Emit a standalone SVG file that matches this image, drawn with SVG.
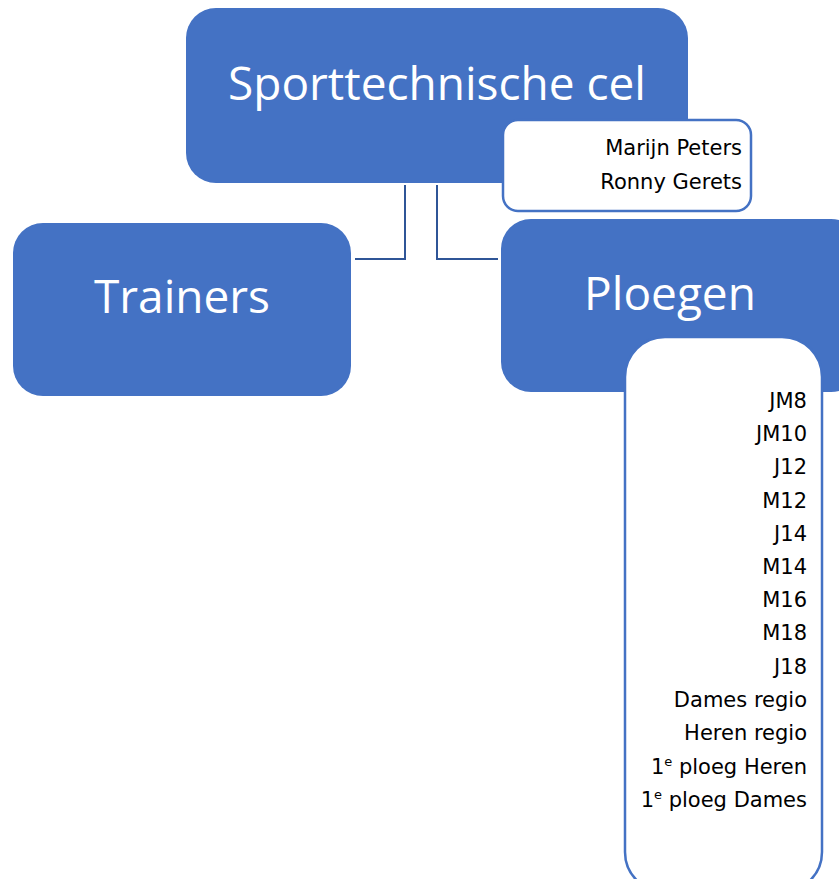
<svg xmlns="http://www.w3.org/2000/svg" width="839" height="879" viewBox="0 0 839 879">
<style>
.box{fill:#4472C4;}
.sub{fill:#FFFFFF;stroke:#4472C4;stroke-width:2.5;}
.big{font-family:"Open Sans","Noto Sans",sans-serif;font-size:46px;fill:#FFFFFF;text-anchor:middle;}
.sm{font-family:"DejaVu Sans","Liberation Sans",sans-serif;font-size:21px;fill:#000000;text-anchor:end;}
.con{fill:none;stroke:#2F5597;stroke-width:2;}
</style>
<rect width="839" height="879" fill="#FFFFFF"/>
<g id="connectors">
<path class="con" d="M405,185 V259 H355"/>
<path class="con" d="M437,185 V259 H498"/>
</g>
<g id="sporttechnische-cel">
<rect class="box" x="186" y="8" width="502" height="175" rx="30"/>
<text class="big" x="437" y="100">Sporttechnische cel</text>
</g>
<g id="sporttechnische-cel-members">
<rect class="sub" x="503" y="120" width="248" height="91" rx="15"/>
<text class="sm" x="742" y="155">Marijn Peters</text>
<text class="sm" x="742" y="189">Ronny Gerets</text>
</g>
<g id="trainers">
<rect class="box" x="13" y="223" width="338" height="173" rx="30"/>
<text class="big" x="182" y="313">Trainers</text>
</g>
<g id="ploegen">
<rect class="box" x="501" y="219" width="360" height="173" rx="30"/>
<text class="big" x="670" y="310">Ploegen</text>
</g>
<g id="ploegen-list">
<rect class="sub" x="625" y="337" width="197" height="555" rx="40"/>
<text class="sm" x="807" y="408">JM8</text>
<text class="sm" x="807" y="441">JM10</text>
<text class="sm" x="807" y="474">J12</text>
<text class="sm" x="807" y="508">M12</text>
<text class="sm" x="807" y="541">J14</text>
<text class="sm" x="807" y="574">M14</text>
<text class="sm" x="807" y="607">M16</text>
<text class="sm" x="807" y="640">M18</text>
<text class="sm" x="807" y="674">J18</text>
<text class="sm" x="807" y="707">Dames regio</text>
<text class="sm" x="807" y="740">Heren regio</text>
<text class="sm" x="807" y="774">1<tspan font-size="13" dy="-8">e</tspan><tspan dy="8"> ploeg Heren</tspan></text>
<text class="sm" x="807" y="807">1<tspan font-size="13" dy="-8">e</tspan><tspan dy="8"> ploeg Dames</tspan></text>
</g>
</svg>
